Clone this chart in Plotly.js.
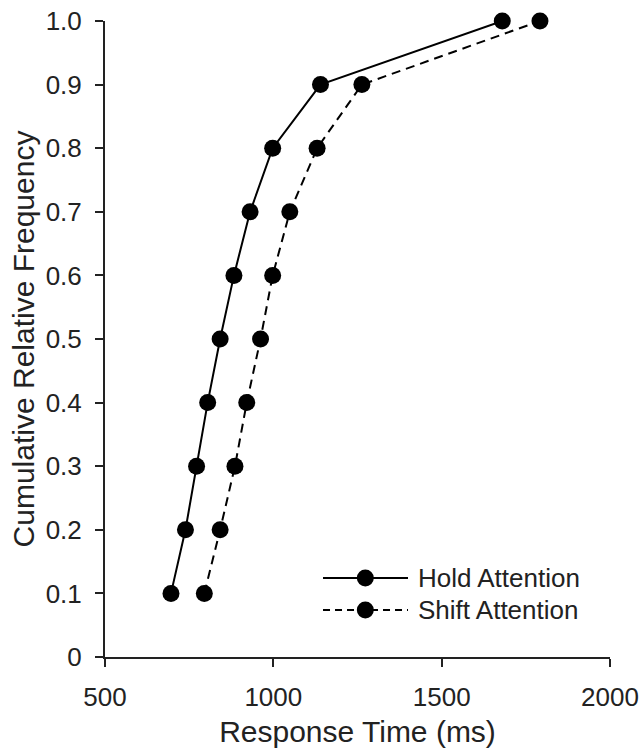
<!DOCTYPE html>
<html>
<head>
<meta charset="utf-8">
<script src="https://cdn.plot.ly/plotly-3.0.1.min.js"></script>
<style>
  html, body { margin: 0; padding: 0; background: #ffffff; }
  #chart { width: 643px; height: 748px; }
</style>
</head>
<body>
<div id="chart"></div>
<script>
// Cumulative relative frequency levels
var cumFreq = [0.1, 0.2, 0.3, 0.4, 0.5, 0.6, 0.7, 0.8, 0.9, 1.0];
// Response times (ms) per quantile
var holdRT  = [696, 739, 772, 805, 842, 883, 931, 998, 1140, 1680];
var shiftRT = [795, 842, 886, 921, 962, 998, 1049, 1130, 1263, 1792];

var seriesNames = ["Hold Attention", "Shift Attention"];

var yTickVals = [0, 0.1, 0.2, 0.3, 0.4, 0.5, 0.6, 0.7, 0.8, 0.9, 1.0];
var yTickText = ["0", "0.1", "0.2", "0.3", "0.4", "0.5", "0.6", "0.7", "0.8", "0.9", "1.0"];
var xTickVals = [500, 1000, 1500, 2000];
var xTickText = ["500", "1000", "1500", "2000"];

var FONT = "Liberation Sans, Arial, Helvetica, sans-serif";
var INK = "#222222";

var traces = [
  {
    x: holdRT, y: cumFreq, name: seriesNames[0],
    type: "scatter", mode: "lines+markers",
    line: { color: "#000000", width: 2 },
    marker: { color: "#000000", size: 17 },
    cliponaxis: false, showlegend: false
  },
  {
    x: shiftRT, y: cumFreq, name: seriesNames[1],
    type: "scatter", mode: "lines+markers",
    line: { color: "#000000", width: 2, dash: "9px,6px" },
    marker: { color: "#000000", size: 17 },
    cliponaxis: false, showlegend: false
  }
];

// Custom legend (drawn in paper coords)
var legX0 = 0.4317, legX1 = 0.60, legMid = 0.5155, legTextX = 0.616;
var legY = [0.1242, 0.0739];
var legDash = ["solid", "7px,5px"];
var shapes = [];
var annotations = [];
for (var i = 0; i < seriesNames.length; i++) {
  shapes.push({
    type: "line", xref: "paper", yref: "paper",
    x0: legX0, x1: legX1, y0: legY[i], y1: legY[i],
    line: { color: "#000000", width: 2, dash: legDash[i] }
  });
  shapes.push({
    type: "circle", xref: "paper", yref: "paper",
    xsizemode: "pixel", ysizemode: "pixel",
    xanchor: legMid, yanchor: legY[i],
    x0: -8.5, x1: 8.5, y0: -8.5, y1: 8.5,
    fillcolor: "#000000", line: { width: 0 }
  });
  annotations.push({
    xref: "paper", yref: "paper", x: legTextX, y: legY[i],
    xanchor: "left", yanchor: "middle", showarrow: false,
    text: seriesNames[i],
    font: { family: FONT, size: 26, color: INK }
  });
}

var layout = {
  width: 643, height: 748,
  margin: { l: 105, r: 33, t: 21, b: 91, pad: 0 },
  paper_bgcolor: "#ffffff", plot_bgcolor: "#ffffff",
  font: { family: FONT, color: INK },
  showlegend: false,
  xaxis: {
    range: [500, 2000], tickmode: "array", tickvals: xTickVals, ticktext: xTickText,
    showgrid: false, zeroline: false,
    showline: true, linecolor: INK, linewidth: 2,
    ticks: "outside", ticklen: 8, tickwidth: 2, tickcolor: INK,
    tickfont: { family: FONT, size: 26, color: INK },
    ticklabelstandoff: 8,
    title: { text: "Response Time (ms)", font: { family: FONT, size: 30, color: INK }, standoff: 10 },
    fixedrange: true
  },
  yaxis: {
    range: [0, 1.0], tickmode: "array", tickvals: yTickVals, ticktext: yTickText,
    showgrid: false, zeroline: false,
    showline: true, linecolor: INK, linewidth: 2,
    ticks: "outside", ticklen: 8, tickwidth: 2, tickcolor: INK,
    tickfont: { family: FONT, size: 26, color: INK },
    ticklabelstandoff: 8,
    title: { text: "Cumulative Relative Frequency", font: { family: FONT, size: 30, color: INK } },
    fixedrange: true
  },
  shapes: shapes,
  annotations: annotations
};

Plotly.newPlot("chart", traces, layout, { staticPlot: true, displayModeBar: false });
</script>
</body>
</html>
